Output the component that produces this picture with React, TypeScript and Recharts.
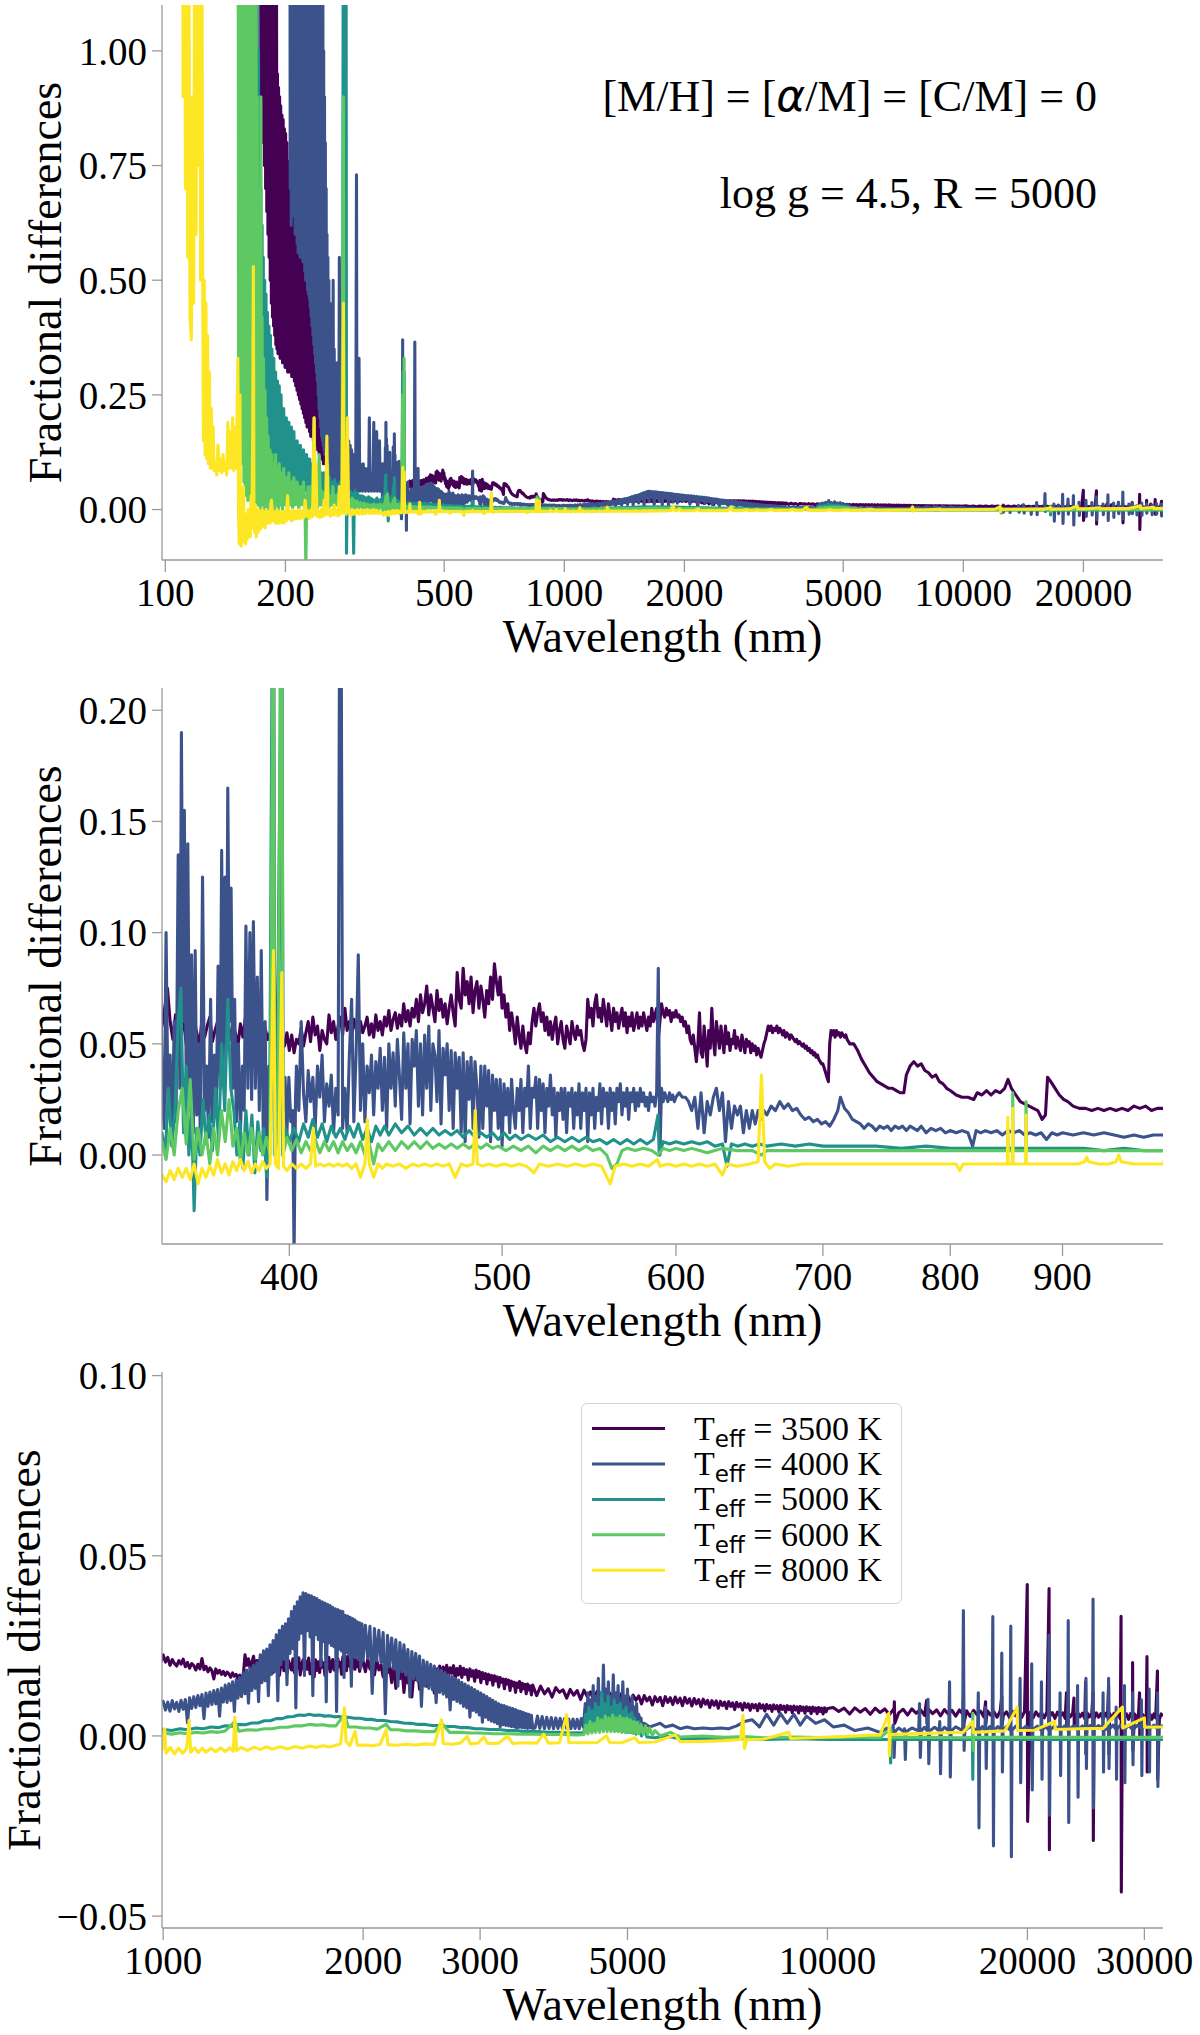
import React from 'react';
import { LineChart, Line, XAxis, YAxis, Legend, Label } from 'recharts';

type Pt = [number, number];

// ---------- series meta ----------
const TEFF_LABELS = ['3500', '4000', '5000', '6000', '8000'];
const TEFF_COLORS = ['#440154', '#3b528b', '#21918c', '#5ec962', '#fde725'];

// ---------- tick values ----------
const X_TICKS_TOP = [100, 200, 500, 1000, 2000, 5000, 10000, 20000];
const X_TICKS_MID = [400, 500, 600, 700, 800, 900];
const X_TICKS_BOT = [1000, 2000, 3000, 5000, 10000, 20000, 30000];
const Y_TICKS_TOP = [0, 0.25, 0.5, 0.75, 1.0];
const Y_TICKS_MID = [0, 0.05, 0.1, 0.15, 0.2];
const Y_TICKS_BOT = [-0.05, 0, 0.05, 0.1];

// a spectrum sampled on a regular wavelength grid: [first wavelength, spacing, read values]
const onGrid = (start: number, step: number, values: number[]): Pt[] =>
  values.map((v, i) => [start + i * step, v] as Pt);
const joinPts = (...parts: Pt[][]): Pt[] => parts.flat().sort((a, b) => a[0] - b[0]);

// ================= UV (100-350 nm) =================
const T3500_UV: Pt[] = [[173,2.0],[173.6,0.9],[174.2,2.0],[174.8,0.85],[175.4,2.0],[176,0.8],[176.6,2.0],[177.2,0.75],[177.8,2.0],[178.4,0.7],[179,2.0],[179.6,0.65],[180.2,2.0],[180.8,0.6],[181.4,2.0],[182,0.55],[182.6,2.0],[183.2,0.5],[183.8,2.0],[184.4,0.45],[185,2.0],[185.6,0.42],[186.2,2.0],[186.8,0.4],[187.4,2.0],[188,0.38],[188.6,1.8],[189.2,0.36],[189.8,1.5],[190.4,0.35],[191,0.95],[191.6,0.34],[192.2,0.92],[192.8,0.34],[193.4,0.9],[194,0.33],[194.6,0.88],[195.3,0.33],[196,0.86],[196.7,0.32],[197.4,0.85],[198.1,0.32],[198.8,0.83],[199.5,0.31],[200.2,0.82],[201,0.31],[201.8,0.8],[202.6,0.3],[203.4,0.76],[204.2,0.3],[205,0.72],[205.8,0.3],[206.6,0.68],[207.4,0.29],[208.2,0.65],[209,0.29],[209.8,0.64],[210.6,0.28],[211.4,0.62],[212.2,0.27],[213,0.6],[213.8,0.26],[214.6,0.59],[215.4,0.25],[216.2,0.58],[217,0.24],[217.8,0.56],[218.6,0.23],[219.4,0.55],[220.2,0.22],[221,0.54],[221.8,0.21],[222.6,0.52],[223.4,0.2],[224.2,0.5],[225,0.19],[225.8,0.49],[226.6,0.18],[227.4,0.47],[228.2,0.18],[229,0.46],[229.8,0.17],[230.6,0.45],[231.4,0.16],[232.2,0.43],[233,0.16],[234,0.41],[235,0.15],[236,0.4],[237,0.14],[238,0.38],[239,0.14],[240,0.35],[241,0.13],[242,0.33],[243,0.12],[244,0.31],[245,0.12],[246,0.29],[247,0.11],[248,0.27],[249,0.1],[250,0.25],[251.5,0.1],[253,0.22],[254.5,0.09],[256,0.2],[257.5,0.09],[259,0.17],[260.5,0.08],[262,0.15],[264,0.08],[266,0.13],[268,0.06],[270,0.11],[272,0.06],[274,0.1],[276,0.06],[278,0.1],[280,0.05],[283,0.09],[286,0.05],[289,0.09],[292,0.05],[295,0.08],[298,0.05],[301,0.08],[304,0.05],[307,0.075],[310,0.05],[313,0.072],[316,0.05],[319,0.07],[322,0.05],[325,0.07],[328,0.05],[331,0.068],[334,0.05],[337,0.065],[340,0.05],[343,0.065],[346,0.05],[349,0.062]];

const T4000_UV: Pt[] = [[205,2.0],[205.6,0.7],[206.2,2.0],[206.8,0.62],[207.4,2.0],[208,0.65],[208.6,2.0],[209.2,0.66],[209.8,2.0],[210.4,0.64],[211,2.0],[211.6,0.6],[212.2,2.0],[212.8,0.62],[213.4,2.0],[214,0.58],[214.6,2.0],[215.2,0.56],[215.8,2.0],[216.4,0.57],[217,2.0],[217.6,0.55],[218.2,2.0],[218.8,0.56],[219.4,2.0],[220,0.55],[220.6,2.0],[221.2,0.54],[221.8,2.0],[222.4,0.55],[223,2.0],[223.6,0.52],[224.2,2.0],[224.8,0.5],[225.4,2.0],[226,0.5],[226.6,2.0],[227.2,0.48],[227.8,2.0],[228.4,0.47],[229,2.0],[229.6,0.46],[230.2,2.0],[230.8,0.44],[231.4,2.0],[232,0.42],[232.6,2.0],[233.2,0.4],[233.8,2.0],[234.4,0.38],[235,2.0],[235.6,0.36],[236.2,2.0],[236.8,0.34],[237.4,2.0],[238,0.32],[238.6,2.0],[239.2,0.3],[239.8,2.0],[240.4,0.28],[241,2.0],[241.6,0.25],[242.2,2.0],[242.8,0.22],[243.4,2.0],[244,0.2],[244.6,1.8],[245.2,0.18],[245.8,1.5],[246.4,0.16],[247,1.4],[247.6,0.15],[248.2,1.2],[248.8,0.14],[249.4,1.0],[250,0.13],[250.6,0.9],[251.2,0.12],[251.8,0.8],[252.4,0.12],[253,0.7],[253.6,0.11],[254.2,0.6],[254.8,0.1],[255.5,0.55],[256.2,0.04],[257,0.5],[257.8,0.05],[258.6,0.45],[259.4,0.04],[260.2,0.42],[261,0.05],[261.8,0.4],[262.6,0.04],[263.4,0.5],[264.2,0.05],[265,0.35],[266,0.04],[267,0.3],[268,0.05],[269,0.32],[270,0.04],[271,0.26],[272,0.05],[273,0.55],[274,0.04],[275,0.24],[276,0.05],[277,0.22],[278,0.04],[279,0.2],[280,0.05],[281,0.18],[282.2,0.04],[283.4,0.17],[284.6,0.05],[285.8,0.16],[287,0.04],[288.2,0.15],[289.4,0.05],[290.6,0.14],[291.8,0.04],[293,0.13],[294.2,0.05],[295.4,0.12],[296.6,0.04],[297.8,0.12],[299,0.05],[300.2,0.11],[301.4,0.73],[302.2,0.04],[303.4,0.1],[304.6,0.05],[305.8,0.33],[307,0.04],[308.2,0.1],[309.4,0.05],[310.6,0.09],[312,0.04],[313.4,0.1],[314.8,0.05],[316.2,0.09],[317.6,0.04],[319,0.08],[320.4,0.05],[321.8,0.09],[323.2,0.04],[324.6,0.2],[326,0.05],[327.4,0.08],[328.8,0.04],[330.2,0.08],[331.6,0.05],[333,0.19],[334.4,0.04],[335.8,0.08],[337.2,0.05],[338.6,0.17],[340,0.04],[341.4,0.07],[342.8,0.05],[344.2,0.15],[345.6,0.04],[347,0.08],[348.4,0.05],[349.4,0.1]];

const T5000_UV: Pt[] = [[158,2.0],[158.6,0.4],[159.2,2.0],[159.8,0.35],[160.4,2.0],[161,0.3],[161.6,2.0],[162.2,0.28],[162.8,2.0],[163.4,0.25],[164,2.0],[164.6,0.22],[165.2,2.0],[165.8,0.2],[166.4,2.0],[167,0.18],[167.6,2.0],[168.2,0.15],[168.8,1.5],[169.4,0.13],[170,1.2],[170.6,0.12],[171.2,1.0],[171.8,0.1],[172.4,0.85],[173,0.08],[173.6,0.7],[174.2,0.07],[174.8,0.62],[175.4,0.06],[176,0.55],[176.7,0.05],[177.4,0.5],[178.1,0.04],[178.8,0.47],[179.5,0.05],[180.2,0.43],[181,0.04],[181.8,0.4],[182.6,0.03],[183.4,0.38],[184.2,0.04],[185,0.35],[186,0.03],[187,0.33],[188,0.04],[189,0.3],[190,0.03],[191,0.28],[192,0.04],[193,0.27],[194,0.03],[195,0.25],[196.5,0.04],[198,0.22],[199.5,0.03],[201,0.2],[202.5,0.04],[204,0.19],[205.5,0.03],[207,0.18],[208.5,0.04],[210,0.17],[212,0.03],[214,0.15],[216,0.04],[218,0.14],[220,0.03],[222,0.13],[224,0.04],[226,0.12],[228,0.03],[230,0.11],[232,0.04],[234,0.1],[236,0.03],[238,0.1],[240,0.04],[242,0.09],[244,0.03],[246,0.08],[248,0.035],[250,0.08],[252,0.03],[254,0.07],[256,0.03],[258,0.07],[260,0.03],[262,0.06],[264,0.025],[266,0.065],[268,0.03],[270,0.055],[272,0.025],[274,0.06],[276,0.03],[278,0.05],[279.4,1.5],[280,0.02],[282,0.05],[283.5,2.0],[284.5,-0.095],[285.5,0.03],[287,0.045],[289,0.02],[291,0.04],[293,0.02],[295,0.035],[296.5,-0.095],[297.5,0.02],[299,0.04],[301,0.015],[303,0.035],[305,0.02],[307,0.03],[309,0.015],[311,0.03],[313,0.015],[315,0.028],[317,0.012],[319,0.025],[321,0.015],[323,0.028],[325,0.012],[327,0.025],[329,0.015],[331,0.022],[333,0.01],[335,0.02],[337,0.012],[339,0.025],[341,0.01],[343,0.02],[345,0.015],[347,0.022],[349,0.01]];

const T6000_UV: Pt[] = [[152,2.0],[152.6,0.3],[153.2,2.0],[153.8,0.2],[154.4,2.0],[155,0.15],[155.6,2.0],[156.2,0.1],[156.8,2.0],[157.4,0.06],[158,2.0],[158.6,0.04],[159.2,2.0],[159.8,0.03],[160.4,2.0],[161,0.02],[161.6,2.0],[162.2,0.03],[162.8,2.0],[163.4,0.02],[164,2.0],[164.6,0.02],[165.2,1.8],[165.8,0.03],[166.4,1.6],[167,0.02],[167.6,1.4],[168.2,0.01],[168.8,1.2],[169.4,0.02],[170,0.9],[170.6,0.01],[171.2,0.7],[171.8,0.02],[172.4,0.55],[173,0.0],[173.6,0.9],[174.2,0.01],[174.8,0.42],[175.4,0.02],[176.2,0.33],[177,0.0],[177.8,0.26],[178.6,0.01],[179.4,0.2],[180.2,0.0],[181,0.16],[182,0.02],[183,0.13],[184,0.0],[185,0.12],[186,0.02],[187,0.1],[188,0.0],[189,0.12],[190,0.01],[191,0.09],[192,0.0],[193,0.1],[194,0.01],[195,0.08],[196.5,0.0],[198,0.09],[199.5,0.01],[201,0.07],[202.5,0.0],[204,0.08],[205.5,0.01],[207,0.06],[208.5,0.0],[210,0.07],[212,0.01],[214,0.06],[216,0.0],[218,0.05],[220,0.01],[222,0.06],[224,0.0],[225,-0.13],[226,0.01],[228,0.05],[230,0.0],[232,0.05],[234,0.01],[236,0.2],[237.5,0.01],[239,0.04],[241,0.005],[243,0.12],[245,0.01],[247,0.04],[249,0.005],[251,0.035],[253,0.01],[255,0.1],[257,0.005],[259,0.03],[261,0.01],[263,0.05],[265,0.005],[267,0.03],[269,0.01],[271,0.035],[273,0.005],[275,0.025],[277,0.01],[279.5,0.9],[280.5,0.0],[282,0.02],[284,0.005],[286,0.03],[288,0.005],[290,0.02],[292,0.005],[294,0.025],[296,0.0],[298,0.02],[300,0.004],[303,0.018],[306,0.004],[309,0.015],[312,0.002],[315,0.014],[318,0.004],[321,0.012],[324,0.002],[327,0.01],[330,0.004],[333,0.012],[336,0.002],[339,0.01],[342,0.0],[345,0.012],[348,0.004]];

const T8000_UV: Pt[] = [[110,2.5],[110.8,0.9],[111.5,2.0],[112.3,0.7],[113,1.6],[113.8,0.55],[114.5,1.3],[115.3,0.42],[116.2,0.37],[117,0.9],[117.8,0.45],[118.6,1.5],[119.4,0.6],[120.2,2.0],[121,0.75],[121.8,2.0],[122.6,0.5],[123.3,1.6],[124,0.55],[124.6,0.15],[125.2,0.5],[125.8,0.12],[126.4,0.45],[127,0.11],[127.6,0.38],[128.3,0.1],[129,0.3],[129.7,0.09],[130.4,0.22],[131.1,0.09],[131.8,0.18],[132.5,0.085],[133.5,0.1],[134.5,0.075],[135.5,0.14],[136.5,0.085],[137.5,0.11],[138.5,0.08],[139.5,0.12],[140.5,0.085],[141.5,0.1],[142.5,0.075],[143.5,0.19],[144.5,0.09],[145.5,0.17],[146.5,0.09],[147.5,0.2],[148.5,0.085],[149.5,0.18],[150.5,0.09],[151.3,0.2],[152,0.33],[152.6,-0.02],[153.2,-0.075],[153.8,0.25],[154.4,-0.05],[155,-0.08],[155.7,-0.03],[156.4,-0.07],[157,0.05],[157.6,-0.06],[158.3,-0.02],[159,-0.075],[159.7,-0.01],[160.4,-0.065],[161.1,0.0],[161.8,-0.05],[162.5,-0.015],[163.2,-0.06],[164,0.03],[164.8,-0.04],[165.5,0.15],[166.2,0.53],[166.8,-0.03],[167.5,-0.05],[168.3,0.01],[169,-0.06],[169.8,-0.01],[170.6,-0.05],[171.4,0.0],[172.2,-0.045],[173,-0.005],[174,-0.04],[175,0.0],[176,-0.035],[177,-0.01],[178,-0.04],[179,0.0],[180,-0.03],[181.5,-0.005],[183,-0.03],[184.5,0.02],[186,-0.025],[187.5,-0.005],[189,-0.03],[190.5,0.0],[192,-0.03],[193.5,-0.005],[195,-0.028],[196.5,-0.005],[198,-0.03],[199.5,-0.004],[201,-0.025],[202.5,0.03],[204,-0.02],[205.5,-0.005],[207,-0.025],[208.5,0.0],[210,-0.022],[212,-0.004],[214,-0.02],[216,0.0],[218,-0.02],[220,-0.003],[222,-0.018],[224,0.02],[226,-0.015],[228,-0.003],[230,-0.02],[232,0.0],[234,-0.015],[236,0.2],[237,-0.01],[238.5,0.1],[240,-0.015],[242,-0.003],[244,-0.018],[246,0.0],[248,-0.015],[250,0.02],[252,-0.012],[254,0.16],[255.5,-0.01],[257,-0.002],[259,-0.015],[261,0.0],[263,-0.012],[265,0.01],[267,-0.012],[269,-0.002],[271,-0.014],[273,0.05],[275,-0.01],[277,-0.002],[279.5,0.45],[280.5,-0.008],[282,0.0],[284,-0.01],[286,0.2],[288,-0.006],[290,-0.002],[292,-0.012],[294,0.0],[296,-0.01],[298,-0.002],[300,-0.01],[303,-0.002],[306,-0.01],[309,0.0],[312,-0.01],[315,-0.002],[318,-0.009],[321,0.0],[324,-0.008],[327,-0.002],[330,-0.009],[333,0.0],[336,-0.008],[339,-0.002],[342,-0.009],[345,-0.004],[348,-0.008]];

// ================= VIS (350-1000 nm) =================
// 3500 K, 1 nm sampling from 350 to 720 nm
const T3500_VIS_FINE = [
  0.058,0.066,0.075,0.06,0.052,0.063,0.057,0.054,0.061,0.05,
  0.058,0.052,0.06,0.055,0.049,0.061,0.053,0.058,0.062,0.051,
  0.056,0.06,0.05,0.057,0.054,0.061,0.052,0.058,0.055,0.049,
  0.059,0.053,0.062,0.05,0.056,0.058,0.051,0.06,0.054,0.048,
  0.057,0.052,0.055,0.047,0.054,0.05,0.045,0.053,0.049,0.055,
  0.047,0.054,0.046,0.052,0.05,0.057,0.049,0.055,0.06,0.051,
  0.062,0.054,0.058,0.047,0.056,0.052,0.05,0.063,0.055,0.06,
  0.052,0.058,0.062,0.054,0.066,0.056,0.06,0.053,0.061,0.057,
  0.052,0.06,0.055,0.058,0.062,0.054,0.059,0.053,0.063,0.056,
  0.06,0.054,0.062,0.058,0.065,0.056,0.061,0.064,0.057,0.063,
  0.058,0.068,0.06,0.065,0.058,0.066,0.062,0.07,0.06,0.072,
  0.064,0.068,0.076,0.063,0.072,0.066,0.06,0.074,0.065,0.07,
  0.062,0.068,0.059,0.066,0.072,0.064,0.058,0.082,0.07,0.066,
  0.084,0.072,0.078,0.068,0.08,0.064,0.074,0.078,0.066,0.076,
  0.07,0.062,0.074,0.068,0.08,0.07,0.086,0.078,0.072,0.08,
  0.066,0.072,0.062,0.068,0.056,0.064,0.058,0.05,0.062,0.054,
  0.048,0.058,0.05,0.046,0.055,0.05,0.06,0.066,0.058,0.064,
  0.068,0.06,0.064,0.056,0.062,0.054,0.06,0.052,0.058,0.062,
  0.05,0.056,0.06,0.052,0.048,0.058,0.054,0.05,0.06,0.055,
  0.052,0.058,0.054,0.056,0.05,0.047,0.052,0.07,0.062,0.066,
  0.058,0.068,0.072,0.062,0.066,0.06,0.07,0.064,0.058,0.068,
  0.062,0.056,0.066,0.06,0.064,0.057,0.062,0.066,0.058,0.064,
  0.055,0.062,0.058,0.064,0.056,0.06,0.064,0.057,0.062,0.058,
  0.064,0.06,0.056,0.062,0.058,0.066,0.06,0.063,0.066,0.052,
  0.06,0.068,0.064,0.062,0.066,0.063,0.065,0.06,0.064,0.062,
  0.065,0.062,0.063,0.06,0.062,0.058,0.06,0.055,0.058,0.052,
  0.05,0.054,0.048,0.042,0.05,0.064,0.046,0.044,0.058,0.05,
  0.04,0.056,0.048,0.066,0.052,0.045,0.06,0.054,0.048,0.058,
  0.052,0.046,0.058,0.05,0.055,0.047,0.052,0.05,0.056,0.048,
  0.053,0.05,0.047,0.054,0.05,0.046,0.052,0.049,0.051,0.046,
  0.05,0.047,0.049,0.045,0.048,0.046,0.044,0.047,0.05,0.052,
  0.055,0.058,0.056,0.058,0.055,0.057,0.056,0.058,0.055,0.057,
  0.056,0.054,0.056,0.053,0.055,0.054,0.052,0.054,0.053,0.052,
  0.051,0.052,0.05,0.051,0.05,0.049,0.05,0.048,0.049,0.047,
  0.048,0.046,0.047,0.045,0.046,0.044,0.045,0.043,0.042,0.041,
  0.041,0.039,0.037,0.035,0.033,0.05,0.056,0.054,0.056,0.053,
  0.056,0.054,0.055,0.053,0.055,0.054,0.053,0.054,0.052,0.051,0.05,
];
const T3500_VIS_RED: Pt[] = [[723,0.05],[726,0.047],[729,0.043],[732,0.04],[735,0.037],[738,0.035],[741,0.033],[744,0.032],[747,0.031],[750,0.03],[753,0.03],[756,0.029],[759,0.028],[762,0.028],[764,0.036],[767,0.04],[770,0.042],[773,0.04],[776,0.041],[779,0.038],[782,0.037],[785,0.035],[788,0.036],[791,0.033],[794,0.032],[797,0.03],[800,0.029],[805,0.027],[810,0.026],[815,0.026],[820,0.025],[823,0.028],[827,0.027],[831,0.029],[835,0.027],[839,0.029],[843,0.028],[847,0.03],[850,0.034],[853,0.03],[857,0.027],[861,0.024],[865,0.023],[869,0.022],[873,0.021],[877,0.02],[881,0.016],[884,0.018],[886,0.035],[889,0.033],[893,0.03],[897,0.027],[901,0.025],[905,0.024],[910,0.022],[916,0.021],[922,0.021],[928,0.02],[934,0.021],[940,0.02],[946,0.021],[952,0.02],[958,0.021],[964,0.02],[970,0.022],[976,0.021],[982,0.022],[988,0.02],[994,0.021],[1000,0.021]];

// 4000 K
const T4000_VIS_BLUE: Pt[] = [[350,0.03],[350.8,0.012],[351.5,0.1],[352.2,0.02],[353,0.045],[353.8,0.008],[354.5,0.06],[355.2,0.015],[356,0.135],[356.6,0.03],[357.2,0.19],[357.8,0.06],[358.3,0.155],[359,0.03],[359.6,0.14],[360.3,0.02],[361,0.09],[361.7,0.01],[362.4,0.092],[363,0.018],[363.7,0.05],[364.4,0.005],[365.2,0.125],[366,0.02],[366.8,0.04],[367.5,0.008],[368.3,0.07],[369,0.015],[369.8,0.045],[370.5,0.02],[371.2,0.085],[372,0.03],[372.6,0.137],[373.2,0.04],[373.9,0.125],[374.5,0.05],[375,0.165],[375.7,0.06],[376.3,0.12],[377,0.03],[377.7,0.07],[378.4,0.015],[379.2,0.05],[380,0.01],[380.8,0.04],[381.5,0.02],[382.2,0.103],[383,0.03],[383.8,0.1],[384.5,0.025],[385.2,0.105],[386,0.03],[386.8,0.08],[387.6,0.02],[388.4,0.092],[389.2,0.01],[390,0.06],[390.7,-0.02],[391.5,0.04],[392.2,0.01],[393,0.12],[393.4,0.37],[393.8,0.02],[394.6,0.035],[395.4,0.09],[396.4,0.2],[396.8,0.3],[397.4,0.02],[398.2,0.035],[399,0.01],[399.8,0.035],[400.6,0.015],[401.4,0.02],[402,-0.045],[402.6,0.025]];
// 1 nm sampling from 403 to 600 nm
const T4000_VIS_FINE = [
  0.04,0.02,0.06,0.028,0.015,0.038,0.024,0.035,0.012,0.04,
  0.026,0.045,0.015,0.032,0.022,0.036,0.01,0.03,0.018,0.365,
  0.012,0.03,0.01,0.045,0.07,0.015,0.045,0.09,0.02,0.05,
  0.015,0.04,0.028,0.045,0.018,0.042,0.03,0.048,0.02,0.044,
  0.012,0.05,0.03,0.046,0.022,0.052,0.035,0.016,0.055,0.03,
  0.05,0.014,0.052,0.04,0.056,0.022,0.05,0.018,0.054,0.03,
  0.058,0.02,0.05,0.045,0.024,0.056,0.014,0.048,0.036,0.05,
  0.02,0.047,0.012,0.046,0.03,0.044,0.01,0.046,0.006,0.042,
  0.025,0.044,0.012,0.042,0.03,0.008,0.04,0.012,0.04,0.022,
  0.038,0.006,0.036,0.02,0.034,0.012,0.034,0.004,0.032,0.018,
  0.03,0.01,0.034,0.02,0.012,0.03,0.02,0.034,0.01,0.03,
  0.022,0.04,0.012,0.03,0.026,0.035,0.012,0.034,0.02,0.032,
  0.01,0.03,0.022,0.036,0.018,0.03,0.008,0.028,0.02,0.03,
  0.016,0.03,0.01,0.028,0.022,0.03,0.012,0.028,0.018,0.032,
  0.012,0.028,0.02,0.03,0.006,0.028,0.018,0.03,0.012,0.026,
  0.02,0.032,0.014,0.03,0.022,0.028,0.012,0.03,0.02,0.028,
  0.014,0.03,0.024,0.032,0.018,0.028,0.022,0.03,0.016,0.028,
  0.024,0.03,0.02,0.028,0.022,0.03,0.024,0.028,0.022,0.026,
  0.02,0.028,0.024,0.026,0.022,0.028,0.084,0.0,0.03,0.024,
  0.028,0.026,0.024,0.028,0.025,0.027,0.024,0.026,
];
const T4000_VIS_RED: Pt[] = [[602,0.028],[604,0.026],[606,0.026],[608,0.024],[610,0.02],[612,0.026],[614,0.012],[616,0.028],[618,0.01],[620,0.024],[622,0.018],[624,0.026],[626,0.03],[628,0.02],[630,0.028],[632,0.006],[634,0.024],[636,0.012],[638,0.022],[640,0.018],[642,0.022],[644,0.01],[646,0.02],[648,0.012],[650,0.02],[652,0.014],[654,0.02],[656,0.016],[658,0.02],[660,0.018],[663,0.022],[666,0.02],[669,0.024],[672,0.021],[675,0.023],[678,0.02],[681,0.021],[684,0.018],[687,0.016],[690,0.017],[693,0.015],[696,0.016],[699,0.014],[702,0.015],[705,0.013],[708,0.016],[711,0.02],[713,0.026],[716,0.021],[719,0.019],[722,0.016],[725,0.015],[728,0.014],[731,0.012],[734,0.014],[737,0.013],[740,0.011],[743,0.013],[746,0.012],[749,0.013],[752,0.011],[755,0.013],[758,0.012],[761,0.013],[764,0.011],[767,0.013],[770,0.012],[773,0.011],[776,0.013],[780,0.01],[784,0.012],[788,0.011],[792,0.012],[796,0.01],[800,0.011],[805,0.01],[810,0.011],[815,0.01],[819,0.004],[822,0.011],[826,0.01],[830,0.011],[835,0.01],[840,0.011],[845,0.009],[850,0.011],[855,0.01],[860,0.011],[865,0.009],[870,0.01],[875,0.009],[880,0.01],[885,0.007],[890,0.01],[895,0.009],[900,0.01],[910,0.009],[920,0.01],[930,0.009],[940,0.01],[950,0.009],[960,0.008],[970,0.009],[980,0.008],[990,0.009],[1000,0.009]];

const T5000_VIS: Pt[] = [[350,0.01],[351.2,0.0],[352.4,0.03],[353.6,0.004],[354.8,0.02],[356,0.06],[357,0.075],[358,0.01],[359,0.04],[360,0.0],[361,0.02],[362,-0.025],[363,0.012],[364.2,0.0],[365.4,0.025],[366.6,0.005],[367.8,0.018],[369,0.002],[370.2,0.03],[371.4,0.006],[372.6,0.05],[373.8,0.02],[375,0.07],[376.2,0.03],[377.4,0.02],[378.6,0.0],[379.8,0.015],[381,-0.006],[382.2,0.02],[383.4,0.0],[384.6,0.018],[385.8,-0.008],[387,0.015],[388.2,0.002],[389.4,0.012],[390.6,-0.01],[391.8,0.01],[393.2,0.3],[393.8,0.0],[395,0.012],[396.6,0.22],[397.2,0.0],[398.4,0.012],[400,0.006],[402,0.012],[404,0.006],[406,0.014],[408,0.008],[410,0.016],[412,0.008],[414,0.014],[416,0.006],[418,0.013],[420,0.008],[422,0.012],[424,0.007],[426,0.013],[428,0.008],[430,0.014],[432,0.007],[434,0.012],[436,0.006],[438,0.013],[440,0.009],[442,0.013],[444,0.009],[447,0.014],[450,0.01],[453,0.013],[456,0.009],[459,0.012],[462,0.009],[465,0.012],[468,0.009],[471,0.011],[474,0.009],[477,0.011],[480,0.008],[483,0.011],[486,0.008],[489,0.01],[492,0.008],[495,0.01],[498,0.007],[501,0.01],[504,0.007],[507,0.009],[510,0.007],[514,0.009],[518,0.007],[522,0.009],[526,0.006],[530,0.008],[534,0.006],[538,0.008],[542,0.006],[546,0.008],[550,0.006],[554,0.007],[558,0.005],[562,0.007],[566,0.005],[570,0.007],[574,0.005],[578,0.007],[582,0.005],[586,0.007],[588.8,0.018],[589.6,0.0],[592,0.006],[596,0.005],[600,0.006],[605,0.005],[610,0.006],[615,0.005],[620,0.006],[625,0.004],[630,0.005],[633,-0.005],[636,0.005],[640,0.004],[645,0.005],[650,0.004],[655,0.005],[660,0.004],[670,0.005],[680,0.004],[690,0.005],[700,0.004],[720,0.004],[740,0.004],[760,0.003],[780,0.004],[800,0.003],[820,0.003],[840,0.003],[860,0.003],[880,0.003],[900,0.003],[920,0.003],[940,0.002],[960,0.003],[980,0.002],[1000,0.002]];

const T6000_VIS: Pt[] = [[350,0.006],[351.5,-0.002],[353,0.012],[354.5,0.0],[356,0.02],[357.5,0.03],[359,0.005],[360.5,0.034],[362,-0.002],[363.5,0.012],[365,0.0],[366.5,0.01],[368,-0.004],[369.5,0.012],[371,0.0],[372.5,0.02],[374,0.006],[375.5,0.025],[377,0.004],[378.5,0.012],[380,-0.003],[381.5,0.01],[383,0.0],[384.5,0.012],[386,-0.002],[387.5,0.01],[389,0.0],[390.5,0.008],[392,0.0],[393.3,0.25],[394,0.0],[395.2,0.01],[396.7,0.33],[397.4,0.0],[399,0.008],[401,0.002],[403,0.007],[405,0.001],[407,0.006],[409,0.002],[411,0.007],[413,0.001],[415,0.006],[417,0.002],[419,0.006],[421,0.001],[423,0.006],[425,0.002],[427,0.005],[429,0.001],[431,0.006],[433,0.0],[435,0.005],[437,-0.004],[439,0.005],[441,0.002],[444,0.006],[447,0.002],[450,0.006],[453,0.003],[456,0.006],[459,0.003],[462,0.006],[465,0.003],[468,0.005],[471,0.003],[474,0.005],[477,0.003],[480,0.005],[483,0.003],[486,0.005],[489,0.003],[492,0.005],[495,0.003],[498,0.004],[502,0.002],[506,0.004],[510,0.002],[514,0.004],[518,0.001],[522,0.004],[526,0.002],[530,0.004],[534,0.002],[538,0.004],[542,0.002],[546,0.004],[550,0.002],[554,0.003],[558,0.0],[561,-0.006],[564,-0.004],[567,0.002],[570,0.003],[575,0.002],[580,0.003],[585,0.002],[588.8,0.0],[592,0.003],[596,0.002],[600,0.003],[605,0.002],[610,0.003],[615,0.002],[620,0.001],[625,0.002],[630,0.003],[640,0.002],[650,0.002],[656.3,0.0],[660,0.002],[670,0.002],[680,0.002],[700,0.002],[720,0.002],[740,0.002],[760,0.002],[780,0.002],[800,0.002],[820,0.002],[840,0.002],[849.5,0.002],[849.8,0.012],[850.1,0.002],[853.9,0.002],[854.2,0.028],[854.5,0.002],[865.9,0.002],[866.2,0.024],[866.5,0.002],[880,0.002],[900,0.002],[920,0.002],[940,0.002],[960,0.002],[980,0.002],[1000,0.002]];

const T8000_VIS: Pt[] = [[350,-0.009],[351.5,-0.012],[353,-0.007],[354.5,-0.011],[356,-0.006],[357.5,-0.01],[359,-0.006],[360.5,-0.011],[362,-0.004],[363.5,-0.013],[365,-0.006],[366.5,-0.01],[368,-0.005],[369.5,-0.009],[371,-0.002],[372.5,-0.008],[374,-0.004],[375.5,-0.009],[377,-0.003],[378.5,-0.007],[380,-0.002],[381.5,-0.007],[383,-0.003],[384.5,-0.008],[386,-0.004],[387.5,-0.007],[389,-0.003],[390.5,-0.006],[392,-0.004],[393.4,0.092],[394.2,-0.004],[395.5,-0.006],[396.9,0.082],[397.6,-0.005],[399,-0.007],[401,-0.004],[403,-0.006],[405,-0.004],[407,-0.006],[409,-0.004],[410.2,0.012],[411.2,-0.005],[413,-0.004],[415,-0.005],[417,-0.004],[419,-0.005],[421,-0.004],[423,-0.005],[425,-0.004],[427,-0.006],[429,-0.004],[431,-0.01],[433,-0.004],[434.1,0.016],[435,-0.004],[437,-0.01],[439,-0.004],[441,-0.006],[443,-0.004],[446,-0.005],[449,-0.004],[452,-0.006],[455,-0.004],[458,-0.005],[461,-0.004],[464,-0.005],[467,-0.004],[470,-0.005],[473,-0.004],[476,-0.01],[479,-0.004],[482,-0.005],[485,-0.004],[486.1,0.02],[487.2,-0.004],[490,-0.005],[493,-0.004],[497,-0.005],[501,-0.004],[505,-0.005],[509,-0.004],[513,-0.005],[517,-0.008],[520,-0.004],[525,-0.005],[530,-0.004],[535,-0.005],[540,-0.004],[545,-0.005],[550,-0.004],[555,-0.005],[560,-0.013],[563,-0.005],[568,-0.004],[573,-0.005],[578,-0.004],[583,-0.005],[588.5,-0.002],[590,-0.005],[595,-0.004],[600,-0.005],[605,-0.004],[610,-0.005],[615,-0.004],[620,-0.005],[625,-0.004],[630,-0.009],[633,-0.004],[640,-0.005],[648,-0.004],[654,-0.003],[656.3,0.036],[658.5,-0.003],[662,-0.006],[666,-0.004],[675,-0.005],[685,-0.004],[695,-0.004],[705,-0.004],[715,-0.004],[725,-0.004],[735,-0.004],[745,-0.004],[755,-0.004],[765,-0.004],[775,-0.004],[785,-0.004],[795,-0.004],[805,-0.004],[808,-0.007],[811,-0.004],[820,-0.004],[830,-0.004],[840,-0.004],[849.5,-0.004],[849.8,0.017],[850.1,-0.004],[853.9,-0.004],[854.2,0.021],[854.5,-0.004],[865.9,-0.004],[866.2,0.018],[866.5,-0.004],[880,-0.004],[895,-0.004],[905,-0.004],[915,-0.004],[921,-0.003],[923,-0.001],[925,-0.003],[935,-0.004],[945,-0.004],[952,-0.003],[954.6,0.0],[957,-0.003],[970,-0.004],[985,-0.004],[1000,-0.004]];

// ================= IR (1000-32000 nm) =================
// 3500 K: 8 nm sampling 1000-2000
const T3500_IR_A = [
  0.0225,0.0205,0.0218,0.0196,0.0212,0.0201,0.0194,0.0209,0.0199,0.0213,
  0.0192,0.0204,0.0188,0.0201,0.0195,0.0183,0.0199,0.0186,0.0215,0.0184,
  0.0193,0.0178,0.0189,0.0181,0.0158,0.0186,0.0174,0.0182,0.0171,0.0179,
  0.0168,0.0177,0.0172,0.0163,0.0175,0.0166,0.0171,0.0158,0.0169,0.0162,
  0.0167,0.0225,0.0196,0.0214,0.0186,0.0205,0.0221,0.0183,0.0209,0.0192,
  0.0216,0.0178,0.0201,0.0213,0.0171,0.0208,0.0189,0.0219,0.0176,0.0204,
  0.0191,0.0212,0.0168,0.0199,0.0215,0.0181,0.0206,0.0173,0.0209,0.0194,
  0.0183,0.0214,0.0176,0.0203,0.0188,0.0217,0.0169,0.0198,0.0211,0.0179,
  0.0207,0.0185,0.0216,0.0172,0.0201,0.0193,0.0164,0.0211,0.0182,0.0206,
  0.0176,0.0214,0.0191,0.0203,0.0168,0.0209,0.0186,0.0218,0.0178,0.0201,
  0.0212,0.0183,0.0207,0.0174,0.0215,0.0192,0.0204,0.0171,0.0219,0.0188,
  0.0209,0.0181,0.0222,0.0194,0.0206,0.0177,0.0216,0.0199,0.0185,0.0221,
  0.0192,0.0213,0.0179,0.0218,0.0196,0.0208,
];
// 16 nm sampling 2016-3600
const T3500_IR_B = [
  0.0178,0.0213,0.0186,0.0202,0.0169,0.0211,0.0183,0.0197,0.0164,0.0208,
  0.0175,0.0194,0.0148,0.0201,0.0132,0.0187,0.0159,0.0192,0.0121,0.0178,
  0.0147,0.0183,0.0108,0.0172,0.0156,0.0189,0.0129,0.0176,0.0162,0.0184,
  0.0138,0.0187,0.0158,0.0176,0.0119,0.0185,0.0167,0.0194,0.0162,0.0191,
  0.0171,0.0196,0.0163,0.0189,0.0174,0.0195,0.0158,0.0187,0.0169,0.0193,
  0.0162,0.0188,0.0171,0.0184,0.0155,0.0186,0.0166,0.0181,0.0152,0.0183,
  0.0163,0.0179,0.0148,0.0176,0.0159,0.0173,0.0144,0.0171,0.0156,0.0168,
  0.0141,0.0167,0.0153,0.0164,0.0136,0.0162,0.0149,0.0158,0.0131,0.0157,
  0.0144,0.0155,0.0126,0.0152,0.0139,0.0149,0.0121,0.0147,0.0135,0.0151,
  0.0123,0.0146,0.0131,0.0143,0.0117,0.0144,0.0128,0.0139,0.0114,0.0141,
];
// 50 nm sampling 3650-10000
const T3500_IR_C = [
  0.0112,0.0138,0.0117,0.0131,0.0108,0.0134,0.0121,0.0128,0.0105,0.0129,
  0.0113,0.0126,0.0101,0.0127,0.0109,0.0122,0.0098,0.0124,0.0107,0.0121,
  0.0096,0.0119,0.0106,0.0117,0.0093,0.0118,0.0101,0.0114,0.0092,0.0113,
  0.0099,0.0111,0.0089,0.0112,0.0097,0.0108,0.0086,0.0109,0.0095,0.0107,
  0.0084,0.0109,0.0093,0.0106,0.0087,0.0108,0.0092,0.0105,0.0084,0.0107,
  0.0091,0.0103,0.0083,0.0104,0.0089,0.0101,0.0081,0.0102,0.0088,0.0099,
  0.0079,0.0098,0.0085,0.0097,0.0077,0.0096,0.0084,0.0094,0.0076,0.0095,
  0.0082,0.0092,0.0073,0.0093,0.0081,0.009,0.0072,0.0091,0.0079,0.0089,
  0.0071,0.0088,0.0078,0.0087,0.007,0.0089,0.0077,0.0086,0.0069,0.0087,
  0.0076,0.0085,0.0068,0.0086,0.0075,0.0084,0.0067,0.0085,0.0074,0.0083,
  0.0066,0.0084,0.0073,0.0082,0.0065,0.0083,0.0072,0.0081,0.0064,0.0082,
  0.0071,0.008,0.0063,0.0081,0.007,0.0079,0.0062,0.008,0.0069,0.0078,
  0.0062,0.0079,0.0068,0.0077,0.0061,0.0078,0.0067,0.0076,
];
// 200 nm sampling 10000-32000
const T3500_IR_D = [
  0.0064,0.0079,0.0068,0.0077,0.0061,0.0078,0.0066,0.0076,0.006,0.0077,
  0.0065,0.0075,0.0059,0.0076,0.0064,0.0074,0.0058,0.0075,0.0063,0.0073,
  0.0057,0.0074,0.0062,0.0072,0.0056,0.0073,0.0061,0.0071,0.0055,0.0072,
  0.006,0.007,0.0054,0.0071,0.0059,0.0069,0.0053,0.007,0.0058,0.0068,
  0.0052,0.0069,0.0057,0.0067,0.0051,0.0068,0.0056,0.0066,0.0051,0.0067,
  0.0055,0.0066,0.005,0.0067,0.0055,0.0065,0.005,0.0066,0.0054,0.0065,
  0.0049,0.0066,0.0054,0.0064,0.0049,0.0065,0.0053,0.0064,0.0048,0.0065,
  0.0053,0.0063,0.0048,0.0064,0.0053,0.0063,0.0048,0.0064,0.0052,0.0062,
  0.0047,0.0063,0.0052,0.0062,0.0047,0.0063,0.0052,0.0061,0.0047,0.0062,
  0.0051,0.0061,0.0046,0.0062,0.0051,0.0061,0.0046,0.0062,0.0051,0.006,
  0.0046,0.0061,0.005,0.006,0.0046,0.0061,0.005,0.006,0.0046,0.0061,0.0055,
];
const T3500_IR_LINES: Pt[] = [[12610,0.0095],[12630,0.0035],[14100,0.0098],[14120,0.0035],[16010,0.0102],[16030,0.003],[17300,0.0095],[17320,0.0035],[18300,0.011],[18320,0.003],[19990,0.042],[20015,-0.0237],[21560,0.0409],[21585,-0.0316],[22900,0.012],[22925,0.002],[23500,0.0105],[23525,0.003],[24470,0.015],[24495,-0.005],[25110,0.012],[25135,-0.029],[26500,0.014],[26525,-0.005],[27670,0.0332],[27695,-0.0433],[28800,0.0204],[28825,-0.004],[29500,0.012],[29525,0.0],[30270,0.022],[30295,-0.01],[31390,0.018],[31415,-0.012]];

// 4000 K: 8 nm sampling 1000-2000
const T4000_IR_A = [
  0.0096,0.0072,0.0094,0.0069,0.0098,0.0075,0.0093,0.0068,0.0099,0.0074,
  0.0101,0.0036,0.0106,0.0076,0.0109,0.0079,0.0112,0.0084,0.0115,0.0048,
  0.0119,0.0082,0.0122,0.0087,0.0126,0.0089,0.0129,0.0055,0.0133,0.0094,
  0.0141,0.0093,0.0145,0.0098,0.015,0.0068,0.0156,0.0105,0.0162,0.0109,
  0.0176,0.0117,0.0183,0.0091,0.0189,0.0126,0.0196,0.0132,0.0203,0.0095,
  0.0225,0.0148,0.0236,0.0153,0.0241,0.0112,0.0253,0.0171,0.0265,0.0179,
  0.0281,0.0098,0.0293,0.0198,0.0304,0.0214,0.0311,0.0142,0.0325,0.0229,
  0.0345,0.0242,0.0359,0.0078,0.0372,0.0268,0.0386,0.0285,0.0397,0.0168,
  0.0395,0.0292,0.0391,0.0275,0.0389,0.0112,0.0385,0.0281,0.0381,0.0268,
  0.0376,0.0195,0.0372,0.0262,0.0369,0.0095,0.0365,0.0258,0.0362,0.0251,
  0.0357,0.0248,0.0353,0.0068,0.0351,0.0241,0.0347,0.0236,0.0345,0.0162,
  0.0335,0.0232,0.0333,0.0225,0.0329,0.0138,0.0326,0.0221,0.0322,0.0217,
  0.0317,0.0212,0.0314,0.0188,0.0311,0.0209,
];
// 16 nm sampling 2016-3600
const T4000_IR_B = [
  0.0307,0.0215,0.0304,0.0118,0.0298,0.0209,0.0293,0.0204,0.0287,0.0062,
  0.0279,0.0192,0.0272,0.0186,0.0267,0.0138,0.0259,0.0178,0.0253,0.0169,
  0.024,0.0108,0.0234,0.0158,0.0229,0.0152,0.0222,0.0082,0.021,0.0138,
  0.0205,0.0132,0.0199,0.0128,0.0194,0.0092,0.0188,0.0121,0.0182,0.0116,
  0.0176,0.0108,0.017,0.0072,0.0165,0.0101,0.016,0.0096,0.0155,0.0091,
  0.0149,0.0082,0.0144,0.0078,0.0139,0.0052,0.0134,0.0071,0.0129,0.0066,
  0.0124,0.0058,0.0119,0.0038,0.0114,0.0052,0.0109,0.0045,0.0104,0.0041,
  0.0099,0.0038,0.0094,0.0034,0.0089,0.0025,0.0086,0.0031,0.0084,0.0029,
  0.0081,0.0028,0.0078,0.0026,0.0076,0.0025,0.0073,0.0021,0.007,0.0024,
  0.0068,0.0023,0.0065,0.0022,0.0062,0.0021,0.006,0.0022,0.0057,0.0021,
];
const T4000_IR_C: Pt[] = [[3630,0.0022],[3660,0.0055],[3690,0.0021],[3720,0.0054],[3750,0.002],[3780,0.0052],[3810,0.0021],[3840,0.0051],[3870,0.002],[3900,0.005],[3930,0.0021],[3960,0.0049],[3990,0.002],[4020,0.0048],[4050,0.0021],[4080,0.0047],[4110,0.002],[4140,0.0047],[4170,0.0021],[4200,0.0046],[4230,0.002],[4260,0.0048],[4290,0.0025],[4320,0.009],[4340,0.003],[4360,0.012],[4380,0.0028],[4400,0.01],[4420,0.003],[4440,0.014],[4460,0.0035],[4480,0.011],[4500,0.003],[4520,0.016],[4540,0.004],[4560,0.012],[4580,0.003],[4600,0.0197],[4620,0.0035],[4640,0.013],[4660,0.004],[4680,0.015],[4700,0.003],[4720,0.011],[4740,0.0035],[4760,0.017],[4780,0.004],[4800,0.012],[4820,0.003],[4840,0.014],[4860,0.0035],[4880,0.01],[4900,0.003],[4920,0.015],[4940,0.0035],[4960,0.011],[4980,0.003],[5000,0.013],[5020,0.003],[5040,0.009],[5060,0.0025],[5080,0.011],[5100,0.0025],[5120,0.008],[5140,0.002],[5160,0.009],[5180,0.002],[5200,0.006],[5220,0.0018],[5240,0.005],[5260,0.0018],[5300,0.0035],[5400,0.0025],[5500,0.003],[5600,0.0035],[5700,0.0025],[5850,0.003],[6000,0.002],[6150,0.0025],[6300,0.002],[6500,0.0022],[6700,0.002],[6900,0.0022],[7100,0.002],[7300,0.0028],[7500,0.004],[7700,0.0045],[7900,0.0025],[8100,0.006],[8300,0.003],[8500,0.0062],[8700,0.0035],[8900,0.006],[9100,0.003],[9300,0.0055],[9600,0.0035],[9900,0.0045],[10200,0.0025],[10600,0.003],[11000,0.0015],[11500,0.0022],[12000,0.001],[12300,0.0022],[12520,0.0012],[12560,0.003],[12600,-0.006],[12640,0.0012],[12800,0.0022],[13020,0.0012],[13060,0.002],[13100,-0.0065],[13140,0.0012],[13400,0.0022],[13720,0.0014],[13760,0.009],[13800,-0.006],[13840,0.0014],[14000,0.0024],[14130,0.0014],[14170,0.0102],[14210,-0.0077],[14250,0.0014],[14500,0.0024],[14720,0.0014],[14760,0.004],[14800,-0.0105],[14840,0.0014],[15000,0.0024],[15230,0.0014],[15270,0.015],[15310,-0.0114],[15350,0.0014],[15600,0.0025],[15980,0.0015],[16020,0.0348],[16060,-0.004],[16100,0.0015],[16400,0.0026],[16830,0.0015],[16870,0.012],[16910,-0.0255],[16950,0.0015],[17100,0.0026],[17260,0.0015],[17300,0.008],[17340,-0.009],[17380,0.0015],[17550,0.0026],[17700,0.0015],[17740,0.0331],[17780,-0.0305],[17820,0.0015],[18050,0.0026],[18260,0.0016],[18300,0.023],[18340,-0.01],[18380,0.0016],[18600,0.0026],[18840,0.0016],[18880,0.0305],[18920,-0.0335],[18960,0.0016],[19200,0.0027],[19460,0.0016],[19500,0.016],[19540,-0.013],[19580,0.0016],[19900,0.0027],[20260,0.0017],[20300,0.02],[20340,-0.015],[20380,0.0017],[20700,0.0027],[20960,0.0017],[21000,0.015],[21040,-0.012],[21080,0.0017],[21300,0.0027],[21520,0.0017],[21560,0.028],[21600,-0.022],[21640,0.0017],[22000,0.0028],[22360,0.0018],[22400,0.012],[22440,-0.011],[22480,0.0018],[22750,0.0028],[23000,0.0018],[23040,0.032],[23080,-0.024],[23120,0.0018],[23450,0.0028],[23760,0.0018],[23800,0.014],[23840,-0.017],[23880,0.0018],[24200,0.0028],[24460,0.0018],[24500,0.016],[24540,-0.009],[24580,0.0018],[24850,0.0029],[25070,0.0018],[25110,0.038],[25150,-0.02],[25190,0.0018],[25600,0.0029],[25960,0.0019],[26000,0.012],[26040,-0.01],[26080,0.0019],[26460,0.0019],[26500,0.016],[26540,-0.009],[26580,0.0019],[26900,0.003],[27160,0.0019],[27200,0.008],[27240,-0.012],[27280,0.0019],[27600,0.003],[27960,0.0019],[28000,0.014],[28040,-0.013],[28080,0.0019],[28400,0.003],[28760,0.0019],[28800,0.012],[28840,-0.008],[28880,0.0019],[29300,0.003],[29660,0.002],[29700,0.01],[29740,-0.011],[29780,0.002],[30100,0.003],[30460,0.002],[30500,0.013],[30540,-0.01],[30580,0.002],[31000,0.003],[31360,0.002],[31400,0.012],[31440,-0.014],[31480,0.002],[32000,0.003]];

const T5000_IR: Pt[] = [[1000,0.0018],[1030,0.0015],[1060,0.002],[1090,0.0017],[1120,0.0022],[1150,0.002],[1180,0.0025],[1210,0.0023],[1240,0.0028],[1270,0.0027],[1300,0.0032],[1330,0.0031],[1360,0.0036],[1390,0.0036],[1420,0.0042],[1450,0.0042],[1480,0.0048],[1510,0.0048],[1540,0.0053],[1570,0.0054],[1600,0.0058],[1630,0.0057],[1660,0.006],[1690,0.0057],[1720,0.0058],[1750,0.0055],[1780,0.0056],[1810,0.0053],[1840,0.0054],[1870,0.0051],[1900,0.0052],[1940,0.0049],[1980,0.0049],[2020,0.0046],[2060,0.0046],[2100,0.0043],[2150,0.0043],[2200,0.004],[2250,0.0039],[2300,0.0036],[2360,0.0035],[2420,0.0032],[2480,0.0032],[2540,0.0029],[2600,0.0029],[2670,0.0026],[2740,0.0026],[2810,0.0023],[2880,0.0023],[2950,0.002],[3020,0.002],[3100,0.0018],[3200,0.0018],[3300,0.0015],[3400,0.0015],[3500,0.0012],[3650,0.0012],[3800,0.001],[3950,0.001],[4100,0.0008],[4200,0.0009],[4300,0.0008],[4325,0.006],[4350,0.0012],[4375,0.008],[4400,0.0015],[4425,0.007],[4450,0.0015],[4475,0.009],[4500,0.0018],[4525,0.008],[4550,0.002],[4575,0.012],[4600,0.002],[4625,0.009],[4650,0.0018],[4675,0.011],[4700,0.002],[4725,0.008],[4750,0.0018],[4775,0.01],[4800,0.0015],[4825,0.0085],[4850,0.0015],[4875,0.009],[4900,0.0015],[4925,0.007],[4950,0.0012],[4975,0.008],[5000,0.001],[5025,0.006],[5050,0.001],[5075,0.0065],[5100,0.0008],[5125,0.005],[5150,0.0005],[5200,0.004],[5250,0.0],[5300,0.002],[5350,-0.0003],[5500,-0.0005],[5700,0.0],[6000,-0.0008],[6500,-0.0006],[7000,-0.0009],[7500,-0.0007],[8000,-0.001],[9000,-0.0008],[10000,-0.001],[11000,-0.0009],[12000,-0.001],[12430,-0.001],[12450,-0.0075],[12470,-0.001],[13000,-0.0009],[14000,-0.001],[15000,-0.0009],[16000,-0.001],[16530,-0.001],[16550,-0.012],[16570,-0.001],[18000,-0.0009],[20000,-0.001],[22000,-0.0009],[24000,-0.001],[26000,-0.0009],[28000,-0.001],[30000,-0.0009],[32000,-0.001]];

const T6000_IR: Pt[] = [[1000,0.0008],[1030,0.0005],[1060,0.0009],[1090,0.0006],[1120,0.001],[1150,0.0008],[1180,0.0012],[1210,0.001],[1240,0.0014],[1282,0.004],[1300,0.0013],[1340,0.0017],[1380,0.0016],[1420,0.002],[1460,0.002],[1500,0.0024],[1540,0.0024],[1580,0.0028],[1620,0.0028],[1660,0.0032],[1700,0.003],[1740,0.0031],[1780,0.0028],[1820,0.0028],[1875,0.006],[1900,0.0025],[1950,0.0025],[2000,0.0022],[2050,0.0022],[2100,0.0019],[2166,0.0032],[2200,0.0017],[2260,0.0017],[2320,0.0014],[2400,0.0014],[2480,0.0012],[2560,0.0012],[2625,0.0035],[2700,0.001],[2800,0.001],[2900,0.0008],[3000,0.0008],[3150,0.0006],[3300,0.0006],[3450,0.0005],[3600,0.0005],[3800,0.0004],[4000,0.0004],[4200,0.0003],[4300,0.0004],[4330,0.003],[4360,0.0006],[4390,0.004],[4420,0.0008],[4450,0.0035],[4480,0.001],[4510,0.005],[4540,0.001],[4570,0.0045],[4600,0.0012],[4630,0.0055],[4660,0.0012],[4690,0.005],[4720,0.0012],[4750,0.0058],[4780,0.0012],[4810,0.005],[4840,0.0012],[4870,0.0055],[4900,0.001],[4930,0.0048],[4960,0.001],[4990,0.005],[5020,0.001],[5050,0.0045],[5080,0.0008],[5110,0.004],[5140,0.0008],[5170,0.0038],[5200,0.0006],[5240,0.0032],[5280,0.0005],[5320,0.0028],[5360,0.0004],[5400,0.0022],[5450,0.0002],[5500,0.0015],[5600,0.0],[5800,0.001],[6000,-0.0003],[6500,0.0],[7000,-0.0004],[7500,-0.0002],[8000,-0.0005],[9000,-0.0003],[10000,-0.0005],[11000,-0.0003],[12000,-0.0005],[12450,0.002],[12500,-0.0004],[14000,-0.0004],[16000,-0.0005],[16530,-0.0004],[16550,0.0063],[16570,-0.004],[16600,-0.0004],[18000,-0.0004],[20000,-0.0004],[24000,-0.0004],[28000,-0.0004],[32000,-0.0004]];

const T8000_IR: Pt[] = [[1000,-0.0035],[1005,0.002],[1010,-0.0048],[1025,-0.0032],[1040,-0.005],[1055,-0.0034],[1070,-0.0048],[1085,-0.0035],[1094,0.0043],[1100,-0.0045],[1115,-0.0033],[1130,-0.0046],[1145,-0.0034],[1160,-0.0045],[1180,-0.0034],[1200,-0.0044],[1220,-0.0033],[1240,-0.0043],[1260,-0.0033],[1275,-0.0042],[1282,0.0052],[1290,-0.004],[1310,-0.0032],[1340,-0.004],[1370,-0.0031],[1400,-0.0038],[1430,-0.003],[1460,-0.0037],[1500,-0.003],[1540,-0.0036],[1580,-0.0029],[1620,-0.0034],[1660,-0.0028],[1700,-0.0032],[1740,-0.0027],[1780,-0.0031],[1820,-0.0026],[1850,-0.0022],[1875,0.0078],[1885,-0.0015],[1910,-0.0027],[1945,0.0013],[1960,-0.0026],[2000,-0.0025],[2060,-0.0027],[2120,-0.0024],[2166,0.0017],[2180,-0.0024],[2240,-0.0026],[2320,-0.0023],[2400,-0.0025],[2480,-0.0022],[2560,-0.0024],[2625,0.0045],[2640,-0.0021],[2720,-0.0023],[2800,-0.002],[2870,-0.0002],[2900,-0.0022],[2980,-0.002],[3040,-0.0003],[3080,-0.0021],[3200,-0.002],[3300,0.0],[3360,-0.0021],[3500,-0.0019],[3650,-0.002],[3740,0.0005],[3800,-0.002],[3950,-0.0019],[4050,0.0059],[4080,-0.0018],[4300,-0.0019],[4500,-0.0018],[4650,0.0],[4700,-0.0018],[4900,-0.0019],[5130,-0.0005],[5200,-0.0018],[5500,-0.0017],[5900,0.0003],[6000,-0.0016],[6500,-0.0015],[7000,-0.0013],[7400,-0.001],[7460,0.0057],[7500,-0.0035],[7560,-0.001],[8000,-0.0009],[8750,0.001],[8800,-0.0007],[9500,-0.0005],[10000,-0.0003],[10500,-0.0002],[11000,0.0],[11500,0.0002],[12000,0.0003],[12370,0.0063],[12400,-0.0055],[12430,0.0004],[13000,0.0005],[14000,0.0007],[15000,0.0009],[16000,0.001],[16550,0.004],[16580,0.001],[17500,0.0012],[18500,0.0014],[19300,0.008],[19330,0.0015],[20500,0.0016],[22000,0.004],[22030,0.0018],[24000,0.002],[26000,0.0021],[27800,0.008],[27830,0.0022],[30000,0.005],[30030,0.0024],[32000,0.0025]];

// ---------- assembly ----------
const T3500_VIS = joinPts(onGrid(350, 1, T3500_VIS_FINE), T3500_VIS_RED);
const T4000_VIS = joinPts(T4000_VIS_BLUE, onGrid(403, 1, T4000_VIS_FINE), T4000_VIS_RED);
const T3500_IR = joinPts(
  onGrid(1000, 8, T3500_IR_A),
  onGrid(2016, 16, T3500_IR_B),
  onGrid(3650, 50, T3500_IR_C),
  onGrid(10200, 200, T3500_IR_D.slice(1)),
  T3500_IR_LINES,
);
const T4000_IR = joinPts(onGrid(1000, 8, T4000_IR_A), onGrid(2016, 16, T4000_IR_B), T4000_IR_C);

const UV = [T3500_UV, T4000_UV, T5000_UV, T6000_UV, T8000_UV];
const VIS = [T3500_VIS, T4000_VIS, T5000_VIS, T6000_VIS, T8000_VIS];
const IR = [T3500_IR, T4000_IR, T5000_IR, T6000_IR, T8000_IR];

const toRows = (pts: Pt[]) => pts.map(([x, y]) => ({ x, y }));

const SERIES_TOP = TEFF_LABELS.map((_, i) => toRows([...UV[i], ...VIS[i], ...IR[i].slice(1)]));
const SERIES_MID = TEFF_LABELS.map((_, i) => toRows([...UV[i].slice(-3), ...VIS[i], ...IR[i].slice(1, 6)]));
const SERIES_BOT = TEFF_LABELS.map((_, i) => toRows([...VIS[i].slice(-4, -1), ...IR[i]]));

const FONT = '"Liberation Serif", "Times New Roman", Times, serif';
const GRAY = '#9a9a9a';
const TICK_STYLE = { fontSize: 39, fontFamily: FONT, fill: '#000' };
const LINE_STYLE = { stroke: GRAY, strokeWidth: 1.3 };
const SERIES_WIDTH = 3.1;

const fmtY = (v: number) => (v < 0 ? '\u2212' : '') + Math.abs(v).toFixed(2);
const fmtX = (v: number) => String(v);

const renderLegend = () => (
  <div
    style={{
      width: 321,
      height: 201,
      boxSizing: 'border-box',
      border: '1.5px solid #d6d6d6',
      borderRadius: 6,
      background: 'rgba(255,255,255,0.85)',
    }}
  >
    <svg width={318} height={198} style={{ display: 'block' }}>
      {TEFF_LABELS.map((t, i) => {
        const cy = 24.5 + i * 35.45;
        return (
          <g key={t}>
            <line x1={10} x2={83} y1={cy} y2={cy} stroke={TEFF_COLORS[i]} strokeWidth={3} />
            <text x={112} y={cy + 11} fontFamily={FONT} fontSize={34} fill="#000">
              T
              <tspan fontFamily='"DejaVu Sans", sans-serif' fontSize={23} dy={7}>eff</tspan>
              <tspan dy={-7}>{` = ${t} K`}</tspan>
            </text>
          </g>
        );
      })}
    </svg>
  </div>
);

type PanelProps = {
  top: number;
  height: number;
  marginTop: number;
  xDomain: [number, number];
  xTicks: number[];
  yDomain: [number, number];
  yTicks: number[];
  series: { x: number; y: number }[][];
  yLabelX: number;
  withLegend?: boolean;
  legendTop?: number;
};

function Panel(p: PanelProps) {
  return (
    <div style={{ position: 'absolute', left: 0, top: p.top, width: 1200, height: p.height }}>
      <LineChart width={1200} height={p.height} margin={{ top: p.marginTop, right: 37, bottom: 0, left: 0 }}>
        <XAxis
          dataKey="x"
          type="number"
          scale="log"
          domain={p.xDomain}
          ticks={p.xTicks}
          interval={0}
          allowDataOverflow
          height={105}
          tickSize={12}
          tickMargin={6}
          tick={TICK_STYLE}
          tickLine={LINE_STYLE}
          axisLine={LINE_STYLE}
          tickFormatter={fmtX}
        >
          <Label
            content={(props: any) => {
              const vb = props.viewBox || {};
              return (
                <text
                  x={vb.x + vb.width / 2}
                  y={vb.y + 92}
                  textAnchor="middle"
                  fontFamily={FONT}
                  fontSize={46}
                  fill="#000"
                >
                  Wavelength (nm)
                </text>
              );
            }}
          />
        </XAxis>
        <YAxis
          type="number"
          domain={p.yDomain}
          ticks={p.yTicks}
          interval={0}
          allowDataOverflow
          width={162}
          tickSize={10}
          tickMargin={5}
          tick={TICK_STYLE}
          tickLine={LINE_STYLE}
          axisLine={LINE_STYLE}
          tickFormatter={fmtY}
        >
          <Label
            content={(props: any) => {
              const vb = props.viewBox || {};
              const cy = vb.y + vb.height / 2;
              return (
                <text
                  x={p.yLabelX}
                  y={cy}
                  transform={`rotate(-90, ${p.yLabelX}, ${cy})`}
                  textAnchor="middle"
                  fontFamily={FONT}
                  fontSize={46}
                  fill="#000"
                >
                  Fractional differences
                </text>
              );
            }}
          />
        </YAxis>
        <XAxis
          xAxisId="boxTop"
          orientation="top"
          type="number"
          domain={[0, 1]}
          height={0}
          tick={false}
          tickLine={false}
          axisLine={LINE_STYLE}
        />
        <YAxis
          yAxisId="boxRight"
          orientation="right"
          type="number"
          domain={[0, 1]}
          width={0}
          tick={false}
          tickLine={false}
          axisLine={LINE_STYLE}
        />
        {p.series.map((rows, i) => (
          <Line
            key={TEFF_LABELS[i]}
            data={rows}
            dataKey="y"
            type="linear"
            stroke={TEFF_COLORS[i]}
            strokeWidth={SERIES_WIDTH}
            strokeLinejoin="round"
            dot={false}
            activeDot={false}
            isAnimationActive={false}
            name={`Teff = ${TEFF_LABELS[i]} K`}
          />
        ))}
        {p.withLegend ? (
          <Legend
            layout="vertical"
            align="center"
            verticalAlign="middle"
            content={renderLegend}
            wrapperStyle={{ left: 581, top: p.legendTop, width: 321, height: 201 }}
          />
        ) : null}
      </LineChart>
    </div>
  );
}

export default function App() {
  return (
    <div style={{ position: 'absolute', left: 0, top: 0, width: 1200, height: 2035, background: '#fff' }}>
      <Panel
        top={0}
        height={665}
        marginTop={5}
        xDomain={[98.1, 31660]}
        xTicks={X_TICKS_TOP}
        yDomain={[-0.11, 1.1]}
        yTicks={Y_TICKS_TOP}
        series={SERIES_TOP}
        yLabelX={61}
      />
      <svg
        width={1200}
        height={240}
        style={{ position: 'absolute', left: 0, top: 0, pointerEvents: 'none' }}
      >
        <text x={1097} y={111} textAnchor="end" fontFamily={FONT} fontSize={44} fill="#000">
          [M/H] = [
          <tspan fontFamily='"DejaVu Sans", sans-serif' fontStyle="italic">α</tspan>
          /M] = [C/M] = 0
        </text>
        <text x={1097} y={208} textAnchor="end" fontFamily={FONT} fontSize={44} fill="#000">
          log g = 4.5, R = 5000
        </text>
      </svg>
      <Panel
        top={672}
        height={677}
        marginTop={16}
        xDomain={[350, 1000]}
        xTicks={X_TICKS_MID}
        yDomain={[-0.04, 0.21]}
        yTicks={Y_TICKS_MID}
        series={SERIES_MID}
        yLabelX={61}
      />
      <Panel
        top={1352}
        height={681}
        marginTop={20}
        xDomain={[996, 32000]}
        xTicks={X_TICKS_BOT}
        yDomain={[-0.0533, 0.101]}
        yTicks={Y_TICKS_BOT}
        series={SERIES_BOT}
        yLabelX={40}
        withLegend
        legendTop={51}
      />
    </div>
  );
}
